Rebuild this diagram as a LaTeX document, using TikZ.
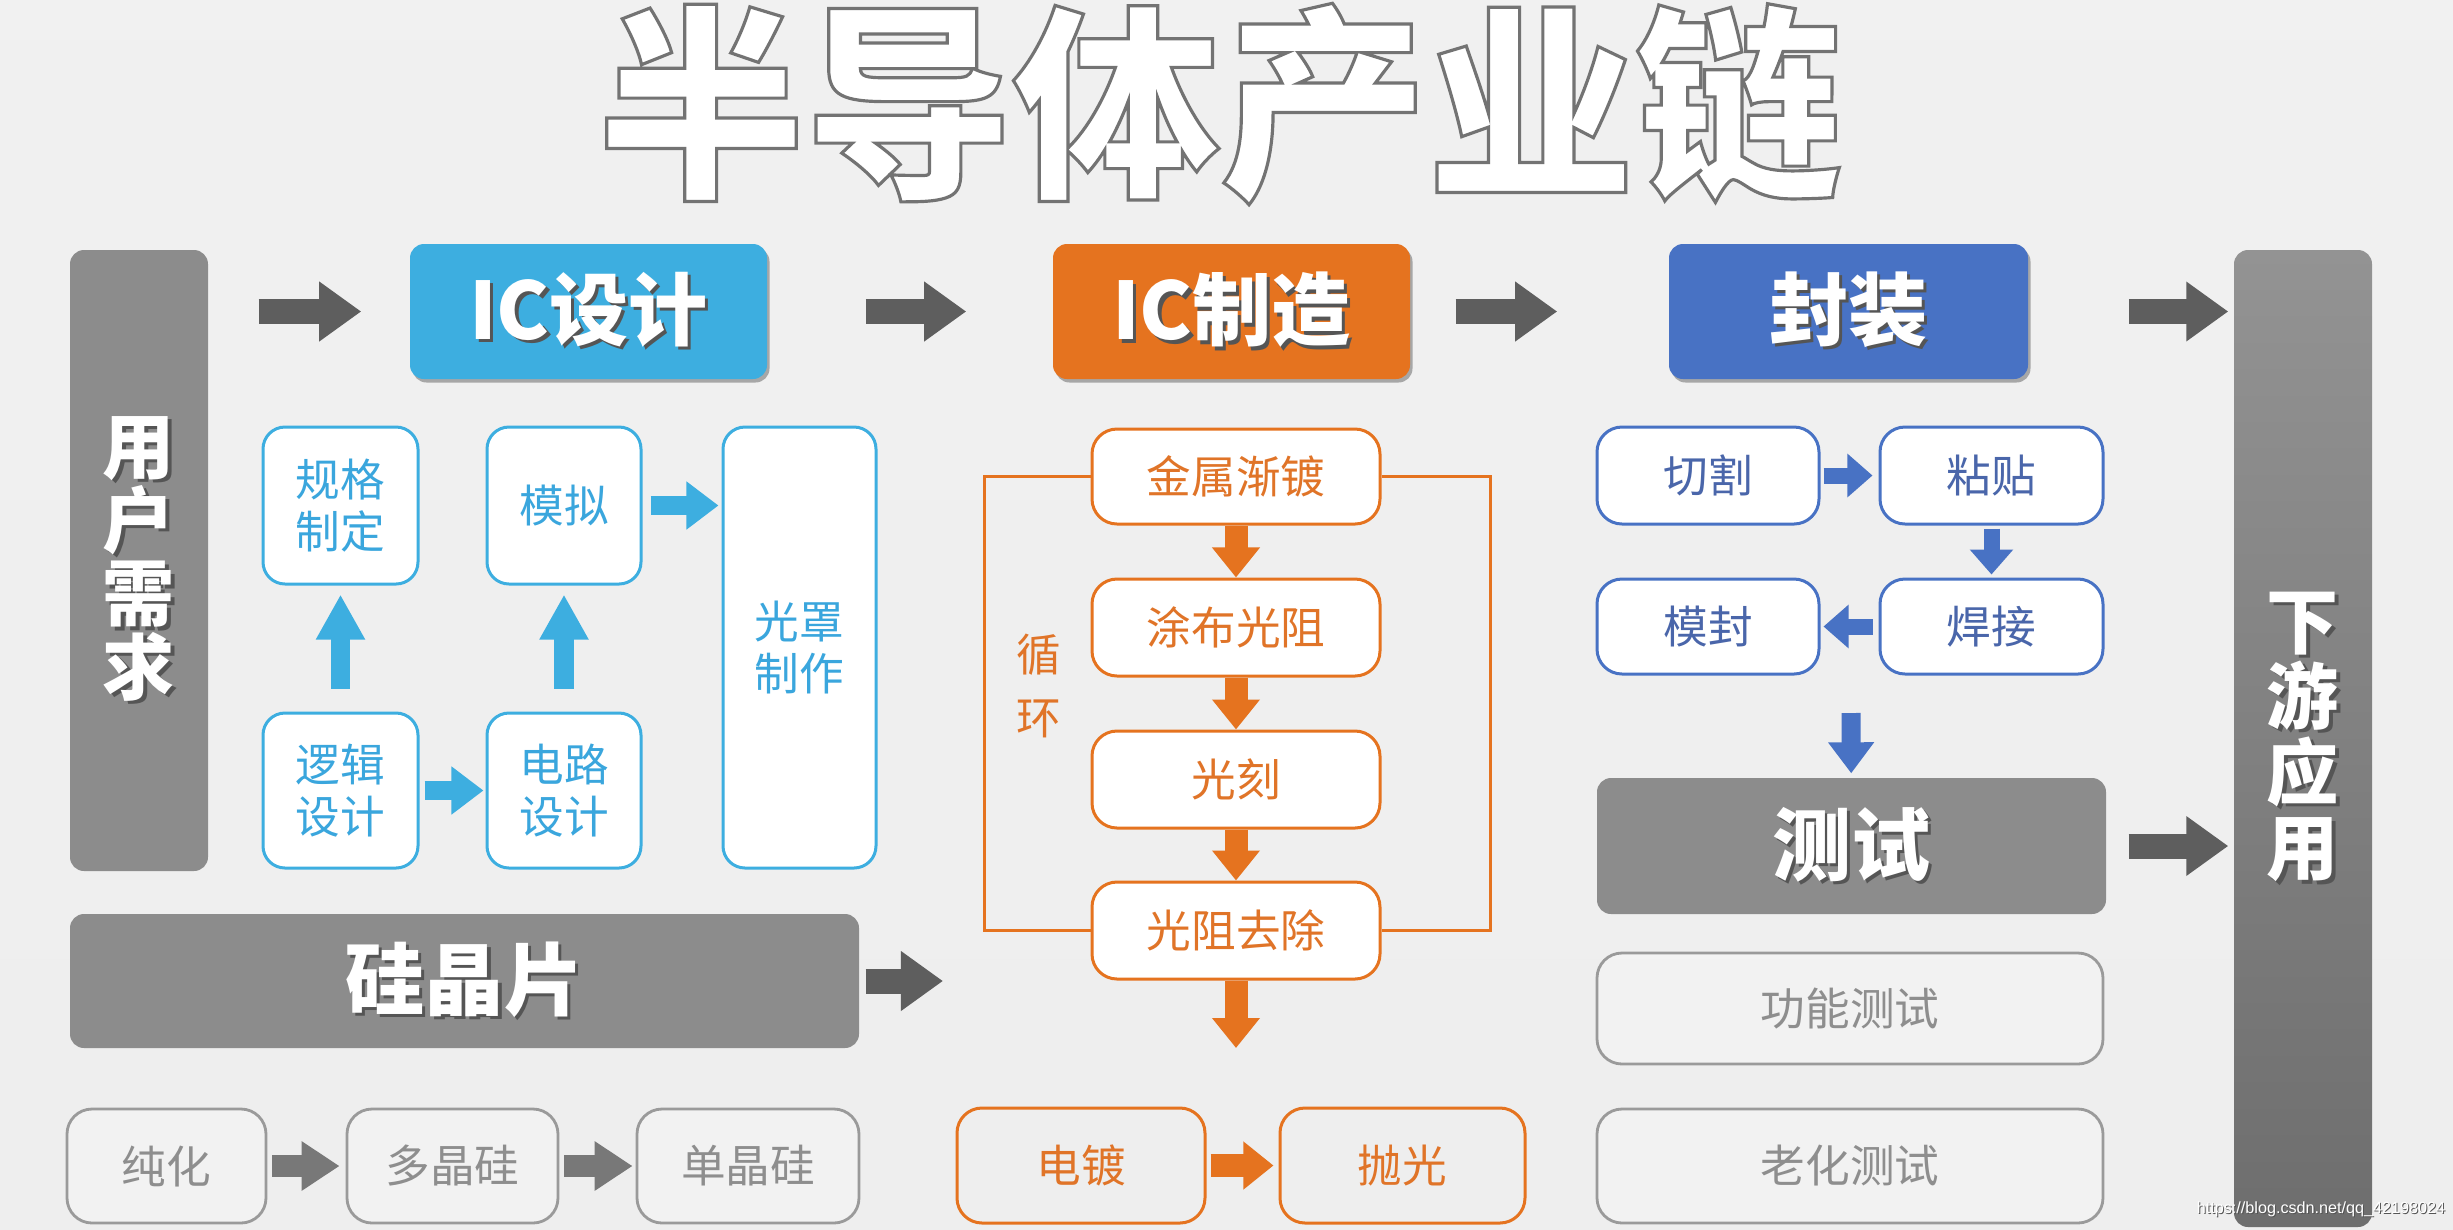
\documentclass[tikz,border=0pt]{standalone}
\usepackage{fontspec}
\setmainfont{Noto Sans CJK SC}
\newfontfamily\wmfont{Liberation Sans}
\usetikzlibrary{arrows.meta,shadows,calc}

\definecolor{icblue}{HTML}{3DAEE0}
\definecolor{ictext}{HTML}{3AA6DD}
\definecolor{mforange}{HTML}{E5731F}
\definecolor{mftext}{HTML}{E07428}
\definecolor{pkblue}{HTML}{4872C4}
\definecolor{pktext}{HTML}{4A66AA}
\definecolor{boxgray}{HTML}{8C8C8C}
\definecolor{arrgray}{HTML}{5E5E5E}
\definecolor{arrgray2}{HTML}{787878}
\definecolor{litegray}{HTML}{9A9A9A}
\definecolor{litetext}{HTML}{8E8E8E}
\definecolor{shadegray}{HTML}{555555}
\definecolor{bgtop}{HTML}{BDBDBD}
\definecolor{bgwhite}{HTML}{F6F6F6}
\definecolor{bgmid}{HTML}{ECECEC}
\definecolor{bgbot}{HTML}{D4D4D4}
\definecolor{bartop}{HTML}{939393}
\definecolor{barbot}{HTML}{6E6E6E}

\pgfdeclareverticalshading{bgshade}{24.53cm}{color(0cm)=(bgbot); color(4cm)=(bgmid); color(10.6cm)=(bgwhite); color(11.4cm)=(bgwhite); color(12.29cm)=(bgtop)}

\newcommand\shtext[2][0.9pt]{\leavevmode\rlap{\kern#1\raisebox{-#1}{\textcolor{shadegray}{#2}}}#2}
\newcommand\outlinetext[1]{\special{pdf:literal direct 2 Tr 0.9 w 0.45 0.45 0.45 RG}#1\special{pdf:literal direct 0 Tr}}
\newcommand\bigfont{\fontsize{22.5}{25}\selectfont\bfseries}
\newcommand\barfont{\fontsize{20.5}{21}\selectfont\bfseries}
\newcommand\smfont{\fontsize{12.7}{14.8}\selectfont}

\begin{document}
\begin{tikzpicture}[
  x=0.01cm, y=-0.01cm,
  sz/.style 2 args={minimum width=#1*0.01cm, minimum height=#2*0.01cm},
  bigbox/.style={rounded corners=0.14cm, inner sep=0pt, text=white, font=\bigfont,
    drop shadow={shadow xshift=0.025cm, shadow yshift=-0.035cm, opacity=0.3, fill=black}},
  graybar/.style={rounded corners=0.14cm, inner sep=0pt, fill=boxgray, text=white, font=\bigfont},
  vbar/.style={rounded corners=0.14cm, inner sep=0pt, text=white, font=\barfont, align=center},
  icsub/.style={draw=icblue, line width=0.03cm, fill=white, rounded corners=0.22cm, inner sep=0pt, text=ictext, font=\smfont, align=center},
  mfsub/.style={draw=mforange, line width=0.03cm, fill=white, rounded corners=0.25cm, inner sep=0pt, text=mftext, font=\smfont},
  mfbot/.style={draw=mforange, line width=0.03cm, rounded corners=0.25cm, inner sep=0pt, text=mftext, font=\smfont},
  pksub/.style={draw=pkblue, line width=0.03cm, fill=white, rounded corners=0.25cm, inner sep=0pt, text=pktext, font=\smfont},
  gsub/.style={draw=litegray, line width=0.028cm, fill=white, fill opacity=0.25, text opacity=1, rounded corners=0.25cm, inner sep=0pt, text=litetext, font=\smfont},
  loopline/.style={draw=mforange, line width=0.03cm},
  titletext/.style={font=\fontsize{59}{60}\selectfont\bfseries, inner sep=0pt},
  garrow/.style={draw=arrgray, line width=0.25cm, -{Triangle[length=0.42cm, width=0.57cm]}},
  garrowb/.style={draw=arrgray2, line width=0.22cm, -{Triangle[length=0.38cm, width=0.47cm]}},
  icarrow/.style={draw=icblue, line width=0.19cm, -{Triangle[length=0.45cm, width=0.46cm]}},
  icarrowr/.style={draw=icblue, line width=0.19cm, -{Triangle[length=0.32cm, width=0.46cm]}},
  mfarrow/.style={draw=mforange, line width=0.23cm, -{Triangle[length=0.3cm, width=0.46cm]}},
  pkarrow/.style={draw=pkblue, line width=0.16cm, -{Triangle[length=0.25cm, width=0.42cm]}},
  pkarrowd/.style={draw=pkblue, line width=0.19cm, -{Triangle[length=0.31cm, width=0.44cm]}}
]
\useasboundingbox (0,0) rectangle (2453,1229);
\shade[shading=bgshade] (0,0) rectangle (2453,1229);

% title (white glyphs with grey outline)
\node[titletext, text=white] (title) at (1220,104) {\outlinetext{半导体产业链}};

% main boxes
\node[vbar, fill=boxgray, sz={138}{621}] (user) at (139,560.5)
  {\shtext{用}\\\shtext{户}\\\shtext{需}\\\shtext{求}};
\node[vbar, top color=bartop, bottom color=barbot, sz={138}{977}] (down) at (2303,738.5)
  {\shtext{下}\\[0.5pt]\shtext{游}\\[0.5pt]\shtext{应}\\[0.5pt]\shtext{用}};
\node[bigbox, fill=icblue, sz={357}{135}] (icd) at (588.5,311.5) {\shtext{IC设计}};
\node[bigbox, fill=mforange, sz={357}{135}] (icm) at (1231.5,311.5) {\shtext{IC制造}};
\node[bigbox, fill=pkblue, sz={359}{135}] (pkg) at (1848.5,311.5) {\shtext{封装}};

% IC design
\node[icsub, sz={155}{157}] (gg) at (340.5,505.5) {规格\\制定};
\node[icsub, sz={154}{157}] (mn) at (564,505.5) {模拟};
\node[icsub, sz={153}{441}] (gz) at (799.5,647.5) {光罩\\制作};
\node[icsub, sz={155}{155}] (lj) at (340.5,790.5) {逻辑\\设计};
\node[icsub, sz={154}{155}] (dl) at (564,790.5) {电路\\设计};

% IC manufacturing
\node[mfsub, sz={288}{95}] (jm) at (1236,476.5) {金属渐镀};
\node[mfsub, sz={288}{97}] (tb) at (1236,627.5) {涂布光阻};
\node[mfsub, sz={288}{97}] (gk) at (1236,779.5) {光刻};
\node[mfsub, sz={288}{97}] (gq) at (1236,930.5) {光阻去除};
\node[text=mftext, font=\fontsize{12.7}{18}\selectfont, align=center, inner sep=0pt] (xh) at (1039,686) {循\\环};
\node[mfbot, sz={248}{115}] (dd) at (1081,1165.5) {电镀};
\node[mfbot, sz={245}{115}] (pg) at (1402.5,1165.5) {抛光};

% packaging
\node[pksub, sz={222}{97}] (qg) at (1708,475.5) {切割};
\node[pksub, sz={223}{97}] (zt) at (1991.5,475.5) {粘贴};
\node[pksub, sz={222}{95}] (mf) at (1708,626.5) {模封};
\node[pksub, sz={223}{95}] (hj) at (1991.5,626.5) {焊接};
\node[graybar, sz={509}{136}] (cs) at (1851.5,846) {\shtext{测试}};
\node[gsub, sz={506}{111}] (gn) at (1850,1008.5) {功能测试};
\node[gsub, sz={506}{114}] (lh) at (1850,1166) {老化测试};

% wafer
\node[graybar, sz={789}{134}] (sj) at (464.5,981) {\shtext{硅晶片}};
\node[gsub, sz={199}{114}] (ch) at (166.5,1166) {纯化};
\node[gsub, sz={211}{114}] (dj) at (452.5,1166) {多晶硅};
\node[gsub, sz={222}{114}] (dn) at (748,1166) {单晶硅};

% watermark
\node[font=\wmfont\fontsize{4.6}{5}\selectfont, text=white, inner sep=0pt] (wm) at (2321,1210)
  {\shtext[0.3pt]{https://blog.csdn.net/qq\_42198024}};

% coordinates for free ends
\coordinate (sjend) at (943,981);
\coordinate (mfend) at (1236,1048);
\coordinate (pkstart) at (1851,713);

% grey main arrows
\draw[garrow, shorten <=0.5cm, shorten >=0.48cm] (user.east |- icd.west) -- (icd.west);
\draw[garrow, shorten <=0.98cm, shorten >=0.86cm] (icd) -- (icm);
\draw[garrow, shorten <=0.45cm, shorten >=1.11cm] (icm) -- (pkg);
\draw[garrow, shorten <=1.0cm, shorten >=0.05cm] (pkg.east) -- (down.west |- pkg.east);
\draw[garrow, shorten <=0.22cm, shorten >=0.05cm] (cs.east) -- (down.west |- cs.east);
\draw[garrow, shorten <=0.06cm] (sj.east) -- (sjend);

% IC design arrows
\draw[icarrow, shorten <=0.23cm, shorten >=0.09cm] (lj) -- (gg);
\draw[icarrow, shorten <=0.23cm, shorten >=0.09cm] (dl) -- (mn);
\draw[icarrowr, shorten <=0.05cm, shorten >=0.02cm] (lj) -- (dl);
\draw[icarrowr, shorten <=0.08cm, shorten >=0.03cm] (mn.east) -- (gz.west |- mn.east);

% manufacturing arrows and loop
\draw[loopline] (jm.west) -- ++(-106,0) |- (gq.west);
\draw[loopline] (jm.east) -- ++(109,0) |- (gq.east);
\draw[mfarrow] (jm) -- (tb);
\draw[mfarrow] (tb) -- (gk);
\draw[mfarrow] (gk) -- (gq);
\draw[mfarrow] (gq) -- (mfend);
\draw[mfarrow, shorten <=0.04cm, shorten >=0.05cm] (dd) -- (pg);

% packaging arrows
\draw[pkarrow, shorten <=0.03cm, shorten >=0.06cm] (qg) -- (zt);
\draw[pkarrow, shorten <=0.03cm, shorten >=0.03cm] (zt) -- (hj);
\draw[pkarrow, shorten <=0.06cm, shorten >=0.03cm] (hj) -- (mf);
\draw[pkarrowd, shorten >=0.04cm] (pkstart) -- (cs);

% wafer arrows
\draw[garrowb, shorten <=0.05cm, shorten >=0.06cm] (ch) -- (dj);
\draw[garrowb, shorten <=0.05cm, shorten >=0.03cm] (dj) -- (dn);
\end{tikzpicture}
\end{document}
